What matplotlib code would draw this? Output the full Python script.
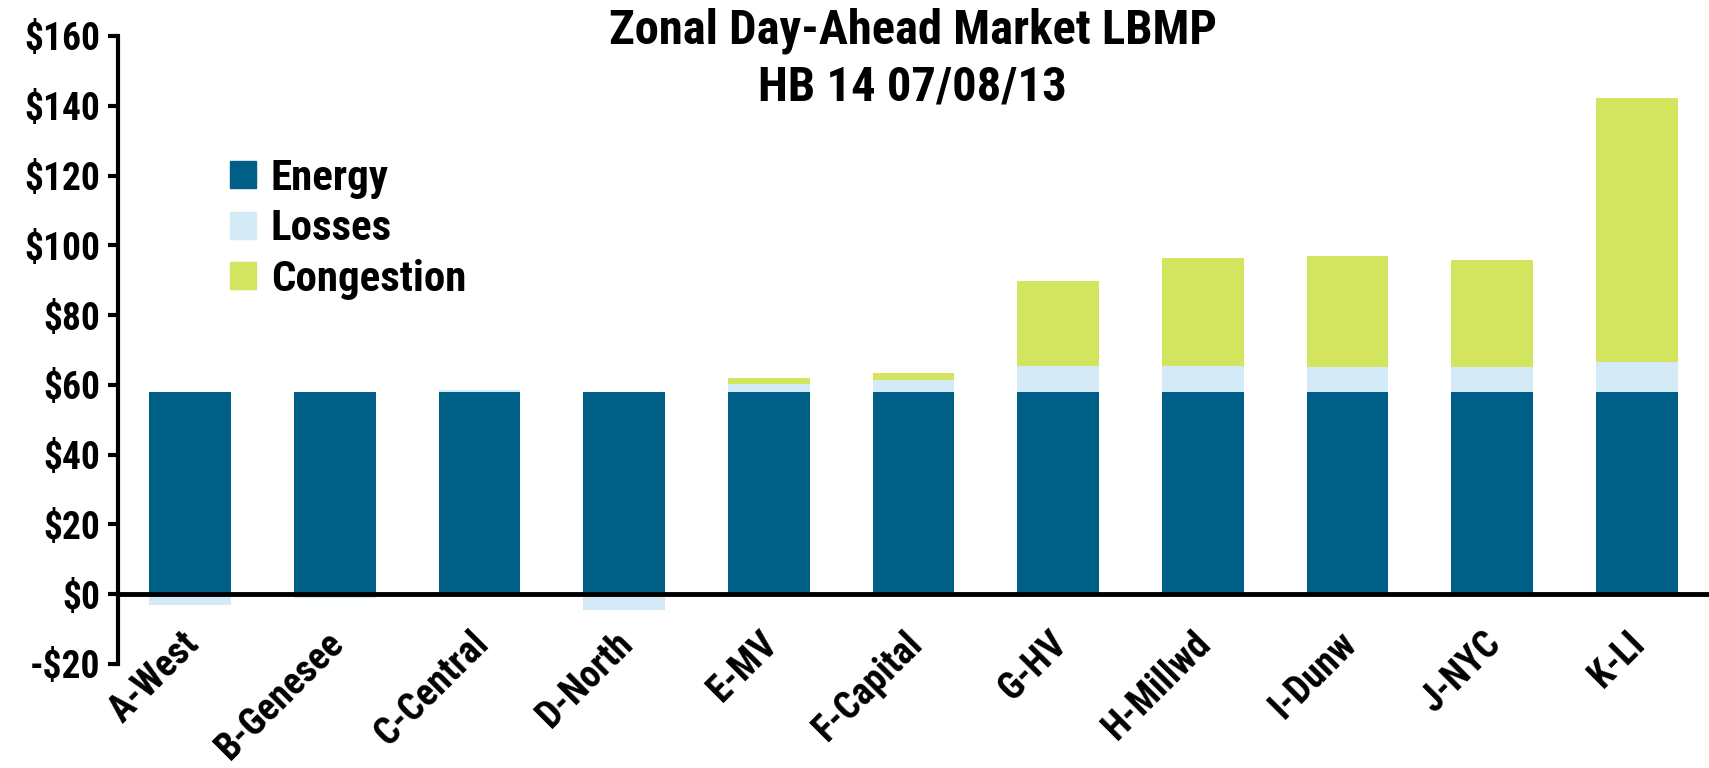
import numpy as np
import matplotlib
matplotlib.use('Agg')
import matplotlib.pyplot as plt
import matplotlib.transforms as mtransforms
from matplotlib.patches import Patch

plt.rcParams['font.family'] = ['Roboto Condensed', 'Open Sans', 'DejaVu Sans']
plt.rcParams['font.stretch'] = 'condensed'
plt.rcParams['font.weight'] = 'bold'

zones = ['A-West', 'B-Genesee', 'C-Central', 'D-North', 'E-MV', 'F-Capital',
         'G-HV', 'H-Millwd', 'I-Dunw', 'J-NYC', 'K-LI']
energy = np.array([58.0, 58.0, 58.0, 58.0, 58.0, 58.0, 58.0, 58.0, 58.0, 58.0, 58.0])
losses = np.array([-3.2, -1.2, 0.4, -4.4, 2.2, 3.5, 7.4, 7.4, 7.0, 7.0, 8.7])
congestion = np.array([0.0, 0.0, 0.0, 0.0, 1.9, 2.0, 24.4, 31.0, 31.9, 30.9, 75.6])
yticks = [-20, 0, 20, 40, 60, 80, 100, 120, 140, 160]

c_energy = '#005f87'
c_losses = '#d4eaf7'
c_cong = '#d3e45e'

fig = plt.figure(figsize=(17.09, 7.68), dpi=100)
ax = fig.add_axes([118 / 1709, 1 - 664 / 768, 1 - 118 / 1709, (664 - 36) / 768])

x = np.arange(len(zones))
w = 0.565
loss_bottom = np.where(losses >= 0, energy, 0)
cong_bottom = energy + np.clip(losses, 0, None)

ax.bar(x, energy, w, color=c_energy, label='Energy', zorder=2)
ax.bar(x, losses, w, bottom=loss_bottom, color=c_losses, label='Losses', zorder=2)
ax.bar(x, congestion, w, bottom=cong_bottom, color=c_cong, label='Congestion', zorder=2)

ax.set_xlim(-0.5, len(zones) - 0.5)
ax.set_ylim(-20, 160)
ax.set_yticks(yticks)
ax.set_yticklabels([('-$%d' % -v) if v < 0 else ('$%d' % v) for v in yticks], fontsize=27)

ax.spines['top'].set_visible(False)
ax.spines['right'].set_visible(False)
ax.spines['left'].set_linewidth(3)
ax.spines['bottom'].set_position(('data', 0))
ax.spines['bottom'].set_linewidth(3.5)
ax.spines['bottom'].set_zorder(3)
ax.tick_params(axis='y', direction='out', length=7, width=3, pad=6)
ax.tick_params(axis='x', length=0, pad=22)

# labels hang from the zero line, right end just past the bar centre
ax.set_xticks(x)
ax.set_xticklabels(zones, fontsize=27, rotation=45, ha='right', rotation_mode='anchor')
offset = mtransforms.ScaledTranslation(-10 / 100, 0, fig.dpi_scale_trans)
for lab in ax.get_xticklabels():
    lab.set_transform(lab.get_transform() + offset)

fig.text(0.534, 0.99, 'Zonal Day-Ahead Market LBMP\nHB 14 07/08/13', ha='center', va='top',
         fontsize=35, fontweight='bold', linespacing=1.28)

handles = [Patch(color=c_energy), Patch(color=c_losses), Patch(color=c_cong)]
ax.legend(handles, ['Energy', 'Losses', 'Congestion'], loc='upper left',
          bbox_to_anchor=(230 / 1709, 1 - 158 / 768), bbox_transform=fig.transFigure,
          frameon=False, fontsize=31, handlelength=0.6, handleheight=0.6,
          handletextpad=0.35, labelspacing=0.22, borderpad=0, borderaxespad=0)

fig.savefig('out.png', dpi=100)
